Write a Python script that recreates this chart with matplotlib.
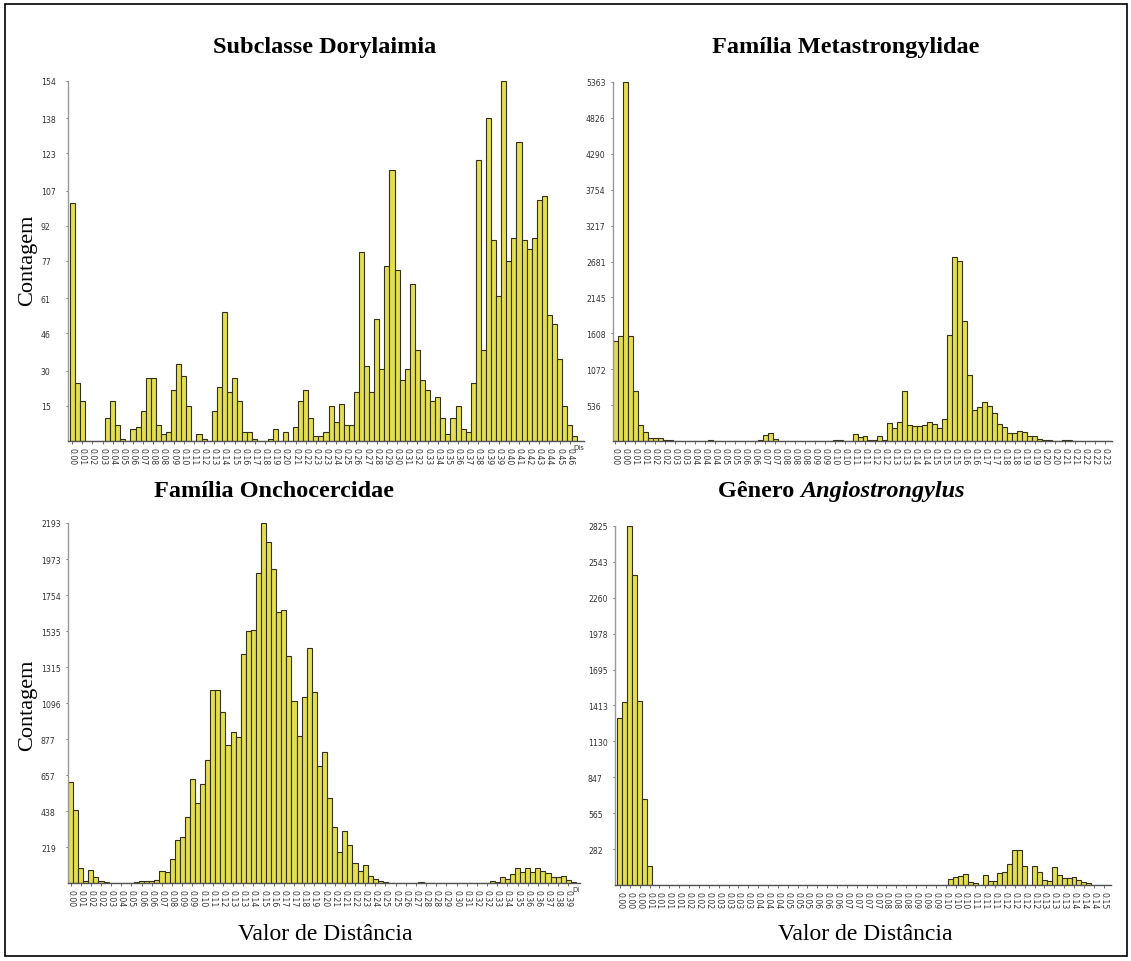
import matplotlib
matplotlib.use('Agg')
import matplotlib.pyplot as plt
from matplotlib.patches import Rectangle
import numpy as np

# ---------------- data ----------------
dory_counts = [102, 25, 17, 0, 0, 0, 0, 10, 17, 7,
               1, 0, 5, 6, 13, 27, 27, 7, 3, 4,
               22, 33, 28, 15, 0, 3, 1, 0, 13, 23,
               55, 21, 27, 17, 4, 4, 1, 0, 0, 1,
               5, 0, 4, 0, 6, 17, 22, 10, 2, 2,
               4, 15, 8, 16, 7, 7, 21, 81, 32, 21,
               52, 31, 75, 116, 73, 26, 31, 67, 39, 26,
               22, 17, 19, 10, 3, 10, 15, 5, 4, 25,
               120, 39, 138, 86, 62, 154, 77, 87, 128, 86,
               82, 87, 103, 105, 54, 50, 35, 15, 7, 2]

meta_counts = [1489, 1564, 5363, 1574, 745, 236, 140, 50, 42, 42,
               22, 22, 0, 0, 0, 0, 0, 0, 0, 20,
               0, 0, 0, 0, 0, 0, 0, 0, 0, 20,
               85, 115, 25, 0, 0, 0, 0, 0, 0, 0,
               0, 0, 0, 0, 20, 20, 0, 0, 100, 60,
               70, 20, 20, 70, 10, 271, 200, 286, 748, 246,
               221, 221, 246, 286, 256, 196, 336, 1579, 2744, 2689,
               1793, 991, 460, 512, 587, 527, 422, 261, 211, 125,
               125, 156, 136, 70, 70, 35, 15, 15, 0, 0,
               15, 15, 0, 0, 0, 0, 0, 0, 0, 0]

oncho_counts = [616, 446, 92, 12, 79, 35, 12, 7, 0, 0,
                0, 0, 0, 6, 10, 10, 10, 21, 75, 65,
                148, 263, 282, 403, 632, 486, 606, 748, 1174, 1174,
                1040, 841, 922, 890, 1393, 1534, 1543, 1889, 2193, 2076,
                1913, 1650, 1662, 1380, 1109, 894, 1133, 1433, 1166, 713,
                799, 515, 340, 188, 319, 232, 121, 73, 110, 44,
                27, 15, 6, 0, 0, 0, 0, 0, 0, 6,
                0, 0, 0, 0, 0, 0, 0, 0, 0, 0,
                0, 0, 0, 15, 6, 38, 25, 52, 90, 65,
                94, 65, 94, 73, 58, 35, 35, 42, 21, 6]

angio_counts = [1318, 1441, 2825, 2436, 1449, 679, 151, 0, 0, 0,
                0, 0, 0, 0, 0, 0, 0, 0, 0, 0,
                0, 0, 0, 0, 0, 0, 0, 0, 0, 0,
                0, 0, 0, 0, 0, 0, 0, 0, 0, 0,
                0, 0, 0, 0, 0, 0, 0, 0, 0, 0,
                0, 0, 0, 0, 0, 0, 0, 0, 0, 0,
                0, 0, 0, 0, 0, 0, 0, 44, 65, 70,
                84, 26, 18, 0, 76, 31, 31, 97, 104, 164,
                277, 272, 151, 0, 151, 104, 39, 31, 144, 78,
                52, 52, 60, 39, 26, 13, 0, 0, 0, 0]

dory_xlabels = ["0.00", "0.01", "0.02", "0.03", "0.04", "0.05", "0.06", "0.07", "0.08", "0.08",
                "0.09", "0.10", "0.11", "0.12", "0.13", "0.14", "0.15", "0.16", "0.17", "0.18",
                "0.19", "0.20", "0.21", "0.22", "0.23", "0.23", "0.24", "0.25", "0.26", "0.27",
                "0.28", "0.29", "0.30", "0.31", "0.32", "0.33", "0.34", "0.35", "0.36", "0.37",
                "0.38", "0.39", "0.39", "0.40", "0.41", "0.42", "0.43", "0.44", "0.45", "0.46"]

meta_xlabels = ["0.00", "0.00", "0.01", "0.01", "0.02", "0.02", "0.03", "0.03", "0.04", "0.04",
                "0.04", "0.05", "0.05", "0.06", "0.06", "0.07", "0.07", "0.08", "0.08", "0.08",
                "0.09", "0.09", "0.10", "0.10", "0.11", "0.11", "0.12", "0.12", "0.13", "0.13",
                "0.14", "0.14", "0.15", "0.15", "0.15", "0.16", "0.16", "0.17", "0.17", "0.18",
                "0.18", "0.19", "0.19", "0.20", "0.20", "0.21", "0.21", "0.22", "0.22", "0.23"]

oncho_xlabels = ["0.00", "0.01", "0.02", "0.02", "0.03", "0.04", "0.05", "0.06", "0.06", "0.07",
                 "0.08", "0.09", "0.09", "0.10", "0.11", "0.12", "0.13", "0.13", "0.14", "0.15",
                 "0.16", "0.17", "0.17", "0.18", "0.19", "0.20", "0.21", "0.21", "0.22", "0.23",
                 "0.24", "0.25", "0.25", "0.26", "0.27", "0.28", "0.28", "0.29", "0.30", "0.31",
                 "0.32", "0.32", "0.33", "0.34", "0.35", "0.36", "0.36", "0.37", "0.38", "0.39"]

angio_xlabels = ["0.00", "0.00", "0.00", "0.01", "0.01", "0.01", "0.01", "0.02", "0.02", "0.02",
                 "0.03", "0.03", "0.03", "0.03", "0.04", "0.04", "0.04", "0.05", "0.05", "0.05",
                 "0.06", "0.06", "0.06", "0.07", "0.07", "0.07", "0.07", "0.08", "0.08", "0.08",
                 "0.09", "0.09", "0.09", "0.10", "0.10", "0.10", "0.11", "0.11", "0.11", "0.12",
                 "0.12", "0.12", "0.12", "0.13", "0.13", "0.13", "0.14", "0.14", "0.14", "0.15"]

dory_yticks = [15, 30, 46, 61, 77, 92, 107, 123, 138, 154]
meta_yticks = [536, 1072, 1608, 2145, 2681, 3217, 3754, 4290, 4826, 5363]
oncho_yticks = [219, 438, 657, 877, 1096, 1315, 1535, 1754, 1973, 2193]
angio_yticks = [282, 565, 847, 1130, 1413, 1695, 1978, 2260, 2543, 2825]

# ---------------- style ----------------
FILL = '#E4DE52'
EDGE = '#33301a'
SERIF = 'Liberation Serif'

W, H = 1131, 962
fig = plt.figure(figsize=(W / 100, H / 100), dpi=100)
fig.patch.set_facecolor('white')


def px_axes(x0, x1, ytop, ybase):
    return fig.add_axes([x0 / W, (H - ybase) / H, (x1 - x0) / W, (ybase - ytop) / H])


def draw(ax, counts, xlabels, yticks, xlim, dis_text=None):
    x = np.arange(len(counts))
    ax.bar(x, counts, width=1.0, align='edge', color=FILL,
           edgecolor=EDGE, linewidth=0.8, zorder=2)
    ax.set_xlim(*xlim)
    ax.set_ylim(0, yticks[-1])
    ax.set_xticks(np.arange(len(xlabels)) * 2 + 0.5)
    ax.set_xticklabels(xlabels, rotation=-90, fontsize=5.6, color='#333333',
                       family='DejaVu Sans')
    ax.set_yticks(yticks)
    ax.set_yticklabels([str(v) for v in yticks], fontsize=5.6, color='#333333',
                       family='DejaVu Sans')
    for lab in ax.get_yticklabels():
        lab.set_horizontalalignment('left')
    ax.tick_params(axis='y', length=1.5, width=0.6, color='#666666', pad=18)
    ax.tick_params(axis='x', length=2.5, width=0.6, color='#555555', pad=1.5)
    for s in ['top', 'right']:
        ax.spines[s].set_visible(False)
    ax.spines['left'].set_color('#999999')
    ax.spines['left'].set_linewidth(1.0)
    ax.spines['bottom'].set_color('#555555')
    ax.spines['bottom'].set_linewidth(1.0)
    ax.set_facecolor('white')
    if dis_text:
        ax.text(1.0, -0.008, dis_text, transform=ax.transAxes, fontsize=5,
                ha='right', va='top', color='#333333')


ax1 = px_axes(68, 584, 82, 442)
draw(ax1, dory_counts, dory_xlabels, dory_yticks, (-0.3, 101.3), 'Dis')

ax2 = px_axes(613, 1112, 83, 442)
draw(ax2, meta_counts, meta_xlabels, meta_yticks, (0, 100))

ax3 = px_axes(68, 580, 524, 884)
draw(ax3, oncho_counts, oncho_xlabels, oncho_yticks, (0, 100.8), 'Di')

ax4 = px_axes(615, 1111, 527, 886)
draw(ax4, angio_counts, angio_xlabels, angio_yticks, (-0.5, 100))

# titles
TS = 17.5
fig.text(325 / W, 1 - 48 / H, 'Subclasse Dorylaimia', ha='center', va='center',
         fontsize=TS, fontweight='bold', family=SERIF)
fig.text(846 / W, 1 - 48 / H, 'Família Metastrongylidae', ha='center', va='center',
         fontsize=TS, fontweight='bold', family=SERIF)
fig.text(274 / W, 1 - 492 / H, 'Família Onchocercidae', ha='center', va='center',
         fontsize=TS, fontweight='bold', family=SERIF)
fig.text(800 / W, 1 - 492 / H, 'Gênero ', ha='right', va='center',
         fontsize=TS, fontweight='bold', family=SERIF)
fig.text(800 / W, 1 - 492 / H, 'Angiostrongylus', ha='left', va='center',
         fontsize=TS, fontweight='bold', style='italic', family=SERIF)

# axis labels
for yc in (260, 705):
    fig.text(28 / W, 1 - yc / H, 'Contagem', rotation=90, ha='center', va='center',
             fontsize=16, family=SERIF)
for xc in (325, 865):
    fig.text(xc / W, 1 - 935 / H, 'Valor de Distância', ha='center', va='center',
             fontsize=17, family=SERIF)

# outer border
fig.patches.append(Rectangle((5 / W, 5 / H), 1122 / W, 952 / H, transform=fig.transFigure,
                             fill=False, edgecolor='black', linewidth=1.2))

fig.savefig('out.png', dpi=100, facecolor='white')
